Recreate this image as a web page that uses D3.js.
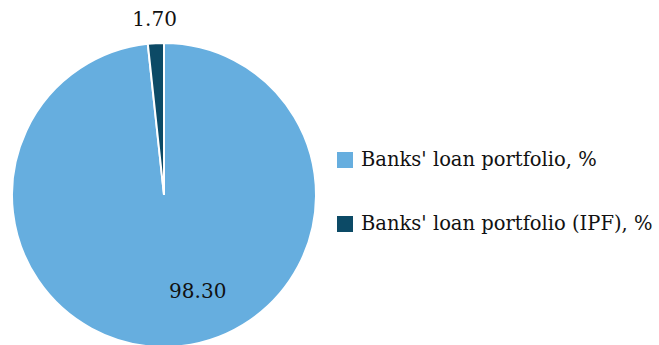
<!DOCTYPE html>
<html>
<head>
<meta charset="utf-8">
<script src="https://cdn.jsdelivr.net/npm/d3@7"></script>
<style>
  body { margin: 0; background: #fff; }
  svg text { font-family: "DejaVu Serif", serif; fill: #111; }
</style>
</head>
<body>
<svg id="chart" width="659" height="345"></svg>
<script>
'use strict';

// chart data
var categories = ["Banks' loan portfolio, %", "Banks' loan portfolio (IPF), %"];
var values = [98.30, 1.70];
var valueLabels = ['98.30', '1.70'];
var colors = ['#66aedf', '#0c4a66'];

var svg = d3.select('#chart'),
    cx = 164,
    cy = 195,
    radius = 152;

var pie = d3.pie().sort(null).value(function (d) { return d; });
var arcs = pie(values);

var arc = d3.arc().innerRadius(0).outerRadius(radius);
var g = svg.append('g').attr('transform', 'translate(' + cx + ',' + cy + ')');

g.selectAll('path')
    .data(arcs)
    .enter()
    .append('path')
    .attr('d', arc)
    .attr('fill', function (d, i) { return colors[i]; })
    .attr('stroke', '#fff')
    .attr('stroke-width', 2);

// big slice label inside, small one outside
var innerArc = d3.arc().innerRadius(radius * 0.63).outerRadius(radius * 0.63);
var outerArc = d3.arc().innerRadius(radius + 24).outerRadius(radius + 24);

g.append('text')
    .attr('transform', 'translate(' + innerArc.centroid(arcs[0]) + ')')
    .attr('dy', '0.35em')
    .attr('text-anchor', 'start')
    .attr('font-size', 20)
    .text(valueLabels[0]);

g.append('text')
    .attr('transform', 'translate(' + outerArc.centroid(arcs[1]) + ')')
    .attr('dy', '0.35em')
    .attr('text-anchor', 'middle')
    .attr('font-size', 20)
    .text(valueLabels[1]);

// legend
var legend = svg.append('g').attr('transform', 'translate(337,152)');
var items = legend.selectAll('g')
    .data(categories)
    .enter()
    .append('g')
    .attr('transform', function (d, i) { return 'translate(0,' + i * 64 + ')'; });

items.append('rect')
    .attr('width', 16)
    .attr('height', 16)
    .attr('fill', function (d, i) { return colors[i]; });

items.append('text')
    .attr('x', 24)
    .attr('y', 14)
    .attr('font-size', 19.5)
    .text(function (d) { return d; });
</script>
</body>
</html>
